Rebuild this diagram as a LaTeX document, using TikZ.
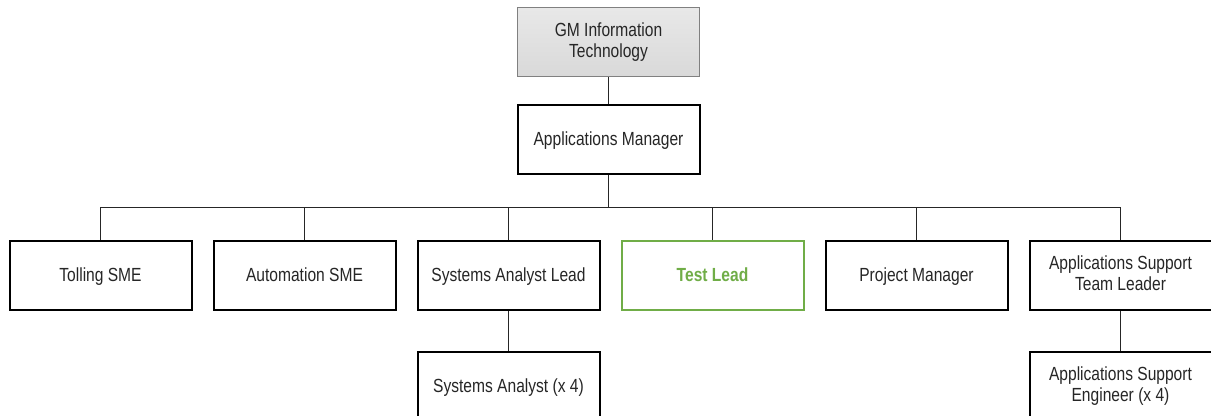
\documentclass[tikz,border=0pt]{standalone}
\usepackage{fontspec}
\setmainfont{Liberation Sans}[FakeStretch=0.82]
\usepackage{tikz}
\usetikzlibrary{positioning}
\definecolor{testgreen}{HTML}{70AD47}
\definecolor{txtgray}{HTML}{262626}
\newcommand{\rolestrut}{\rule[-2.3pt]{0pt}{10.6pt}}
\tikzstyle{role} = [draw, line width=1pt, fill=white, rectangle, align=center,
    text=txtgray, minimum height=34.5pt, minimum width=91pt,
    execute at begin node=\rolestrut, execute at end node=\rolestrut,
    font=\fontsize{9.5}{10.5}\selectfont]
\tikzstyle{head} = [role, draw=gray, line width=0.5pt, top color=gray!18, bottom color=gray!30]
\tikzstyle{lead} = [role, draw=testgreen, text=testgreen, font=\fontsize{9.5}{10.5}\selectfont\bfseries]
\tikzstyle{link} = [draw=black!85, line width=0.5pt]

\begin{document}
\begin{tikzpicture}[x=0.5pt, y=-0.5pt, node distance=102pt]
    \useasboundingbox (0,0) rectangle (1211,416);
    \node [head] (gm) at (608.5,42.5) {GM Information\\Technology};
    \node [role, below of=gm, node distance=48.5pt] (am) {Applications Manager};
    % second row
    \node [role] (tolling) at (100.5,275.5) {Tolling SME};
    \node [role, right of=tolling] (auto) {Automation SME};
    \node [role, right of=auto] (sal) {Systems Analyst Lead};
    \node [lead, right of=sal] (test) {Test Lead};
    \node [role, right of=test] (pm) {Project Manager};
    \node [role, right of=pm] (astl) {Applications Support\\Team Leader};
    % third row
    \node [role, below of=sal, node distance=55.5pt] (sa) {Systems Analyst (x 4)};
    \node [role, below of=astl, node distance=55.5pt] (ase) {Applications Support\\Engineer (x 4)};
    \coordinate (bus) at (608.5,208);
    \draw [link] (gm) -- (am);
    \draw [link] (am) -- (bus);
    \foreach \n in {tolling, auto, sal, test, pm, astl}
        \draw [link] (\n.north) |- (bus);
    \draw [link] (sal) -- (sa);
    \draw [link] (astl) -- (ase);
\end{tikzpicture}
\end{document}
